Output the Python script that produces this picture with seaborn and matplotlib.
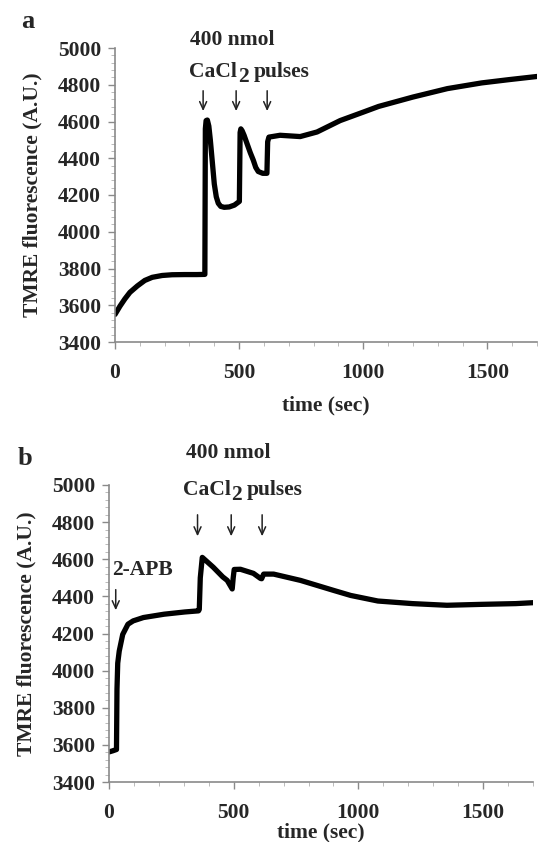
import numpy as np
import pandas as pd
import matplotlib
matplotlib.use("Agg")
import matplotlib.pyplot as plt
import seaborn as sns

# ---------------- data ----------------
time_a = [0, 20, 40, 60, 90, 120, 150, 190, 230, 280, 330, 362, 364, 367, 372, 378, 384, 392,
          400, 408, 416, 426, 440, 460, 481, 501, 504, 507, 512, 520, 531, 545, 557, 567, 577,
          595, 612, 615, 620, 665, 746, 814, 907, 1000, 1062, 1200, 1339, 1477, 1588, 1700]
fluor_a = [3550, 3595, 3635, 3670, 3705, 3735, 3752, 3762, 3766, 3767, 3767, 3768, 4560, 4605,
           4608, 4575, 4500, 4380, 4260, 4190, 4155, 4138, 4133, 4135, 4145, 4165, 4540, 4560,
           4550, 4525, 4483, 4430, 4390, 4350, 4328, 4318, 4318, 4490, 4515, 4525, 4518, 4543,
           4605, 4651, 4682, 4733, 4779, 4810, 4828, 4845]

time_b = [0, 15, 30, 32, 35, 41, 55, 76, 97, 138, 221, 304, 359, 362, 366, 374, 418, 456,
          474, 494, 498, 502, 527, 579, 607, 612, 620, 660, 768, 901, 969, 1078, 1217,
          1355, 1493, 1631, 1700]
fluor_b = [3562, 3568, 3575, 3900, 4040, 4105, 4195, 4250, 4268, 4286, 4304, 4316, 4322,
           4330, 4500, 4610, 4557, 4505, 4486, 4440, 4500, 4545, 4546, 4524, 4497, 4495,
           4520, 4520, 4486, 4432, 4405, 4375, 4361, 4352, 4357, 4361, 4366]

pulse_times_a = [355, 488, 613]
pulse_times_b = [355, 490, 614]
apb_time = 27

y_ticks = [3400, 3600, 3800, 4000, 4200, 4400, 4600, 4800, 5000]
x_ticks = [0, 500, 1000, 1500]

# ---------------- style ----------------
sns.set_style("ticks")
plt.rcParams["font.family"] = ["Liberation Serif", "DejaVu Serif"]
plt.rcParams["font.weight"] = "bold"
plt.rcParams["axes.labelweight"] = "bold"

W, H = 540, 842
fig = plt.figure(figsize=(W / 100, H / 100), dpi=100)

def px_axes(left, right, top, bottom):
    return fig.add_axes([left / W, 1 - bottom / H, (right - left) / W, (bottom - top) / H])

ax_a = px_axes(115, 537, 48, 342)
ax_b = px_axes(109, 533, 485, 782)

df_a = pd.DataFrame({"time": time_a, "fluor": fluor_a})
df_b = pd.DataFrame({"time": time_b, "fluor": fluor_b})

FS = 15.5
spine_col = "#8a8a8a"

for ax, df in ((ax_a, df_a), (ax_b, df_b)):
    sns.lineplot(data=df, x="time", y="fluor", ax=ax, color="black", lw=3.8,
                 sort=False, estimator=None)
    ax.set_xlim(0, 1700)
    ax.set_ylim(3400, 5000)
    ax.set_xticks(x_ticks)
    ax.set_yticks(y_ticks)
    ax.set_xticks(np.arange(0, 1701, 100), minor=True)
    ax.set_yticks(np.arange(3400, 5001, 40), minor=True)
    ax.tick_params(axis="both", which="major", labelsize=FS, direction="out",
                   length=5, width=1, color=spine_col)
    ax.tick_params(axis="y", which="major", pad=5)
    ax.tick_params(axis="x", which="major", pad=10)
    ax.tick_params(axis="both", which="minor", direction="out", length=3,
                   width=0.6, color="#b0b0b0")
    for lab in ax.get_xticklabels() + ax.get_yticklabels():
        lab.set_fontweight("bold")
    for s in ("top", "right"):
        ax.spines[s].set_visible(False)
    for s in ("left", "bottom"):
        ax.spines[s].set_color(spine_col)
        ax.spines[s].set_linewidth(1.2)
    ax.set_xlabel("time (sec)", fontsize=FS, fontweight="bold")
    ax.set_ylabel("TMRE fluorescence (A.U.)", fontsize=FS, fontweight="bold", labelpad=11)

ax_a.xaxis.labelpad = 9
ax_b.xaxis.labelpad = 0

# panel letters
fig.text(28 / W, 1 - 22 / H, "a", fontsize=19, fontweight="bold", ha="center", va="center")
fig.text(25 / W, 1 - 458 / H, "b", fontsize=19, fontweight="bold", ha="center", va="center")

arrowprops = dict(arrowstyle="->,head_length=0.55,head_width=0.25", color="#222222", lw=1.1)

def arrows(ax, times, y_top, y_bot):
    tr = ax.get_xaxis_transform()
    for t in times:
        ax.annotate("", xy=(t, y_bot), xytext=(t, y_top), xycoords=tr, textcoords=tr,
                    arrowprops=arrowprops, annotation_clip=False)

arrows(ax_a, pulse_times_a, 0.864, 0.776)
arrows(ax_b, pulse_times_b, 0.909, 0.818)
arrows(ax_b, [apb_time], 0.657, 0.569)

ax_a.text(0.277, 1.027, "400 nmol", transform=ax_a.transAxes, ha="center", va="center",
          fontsize=FS, fontweight="bold", clip_on=False)
ax_b.text(0.281, 1.108, "400 nmol", transform=ax_b.transAxes, ha="center", va="center",
          fontsize=FS, fontweight="bold", clip_on=False)
ax_b.text(0.007, 0.714, "2-APB", transform=ax_b.transAxes, ha="left", va="center",
          fontsize=FS, fontweight="bold", clip_on=False)

# CaCl2 pulses with lowered full-size "2"
fig.canvas.draw()
renderer = fig.canvas.get_renderer()

def cacl2(ax, x, y):
    t1 = ax.text(x, y, "CaCl", transform=ax.transAxes, ha="left", va="center",
                 fontsize=FS, fontweight="bold", clip_on=False)
    bb = t1.get_window_extent(renderer)
    x1 = ax.transAxes.inverted().transform((bb.x1 + 0.5, 0))[0]
    dy = 5 / ax.bbox.height
    t2 = ax.text(x1, y - dy, "2", transform=ax.transAxes, ha="left", va="center",
                 fontsize=FS, fontweight="bold", clip_on=False)
    bb2 = t2.get_window_extent(renderer)
    x2 = ax.transAxes.inverted().transform((bb2.x1 + 5, 0))[0]
    ax.text(x2, y, "pulses", transform=ax.transAxes, ha="left", va="center",
            fontsize=FS, fontweight="bold", clip_on=False)

cacl2(ax_a, 0.1765, 0.918)
cacl2(ax_b, 0.1745, 0.983)

fig.savefig("out.png", dpi=100)
